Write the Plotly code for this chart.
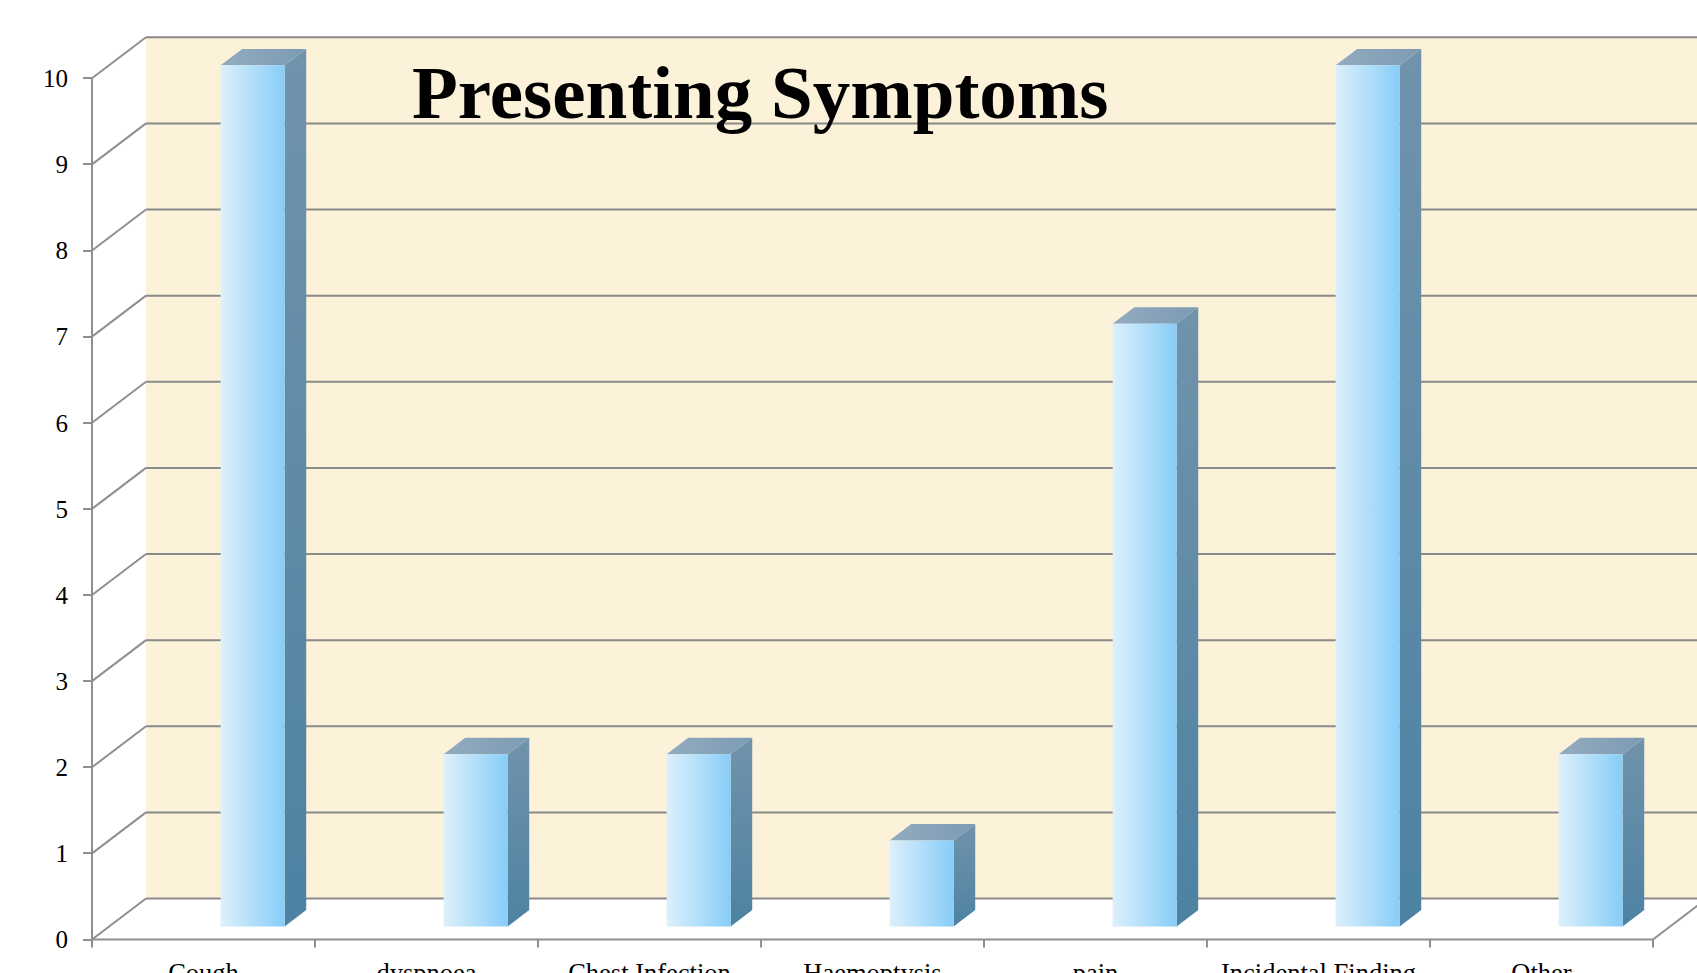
import plotly.graph_objects as go

# ---------------- data ----------------
categories = ["Cough", "dyspnoea", "Chest Infection", "Haemoptysis", "pain",
              "Incidental Finding", "Other"]
counts = [10, 2, 2, 1, 7, 10, 2]
value_ticks = [0, 1, 2, 3, 4, 5, 6, 7, 8, 9, 10]
title_text = "Presenting Symptoms"

# ---------------- layout geometry (pixels) ----------------
W, H = 1697, 973
X0, Y0 = 92.0, 939.5      # front origin of the pseudo-3D box
CW = 223.0                # px per category
VU = 86.12                # px per value unit
DXP, DYP = 54.0, 41.0     # full depth offset
ddx, ddy = DXP / CW, DYP / VU
vmax = max(value_ticks)
ncat = len(categories)

xr = [-X0 / CW, (W - X0) / CW]
yr = [(Y0 - H) / VU, Y0 / VU]

BAR_D1, BAR_D2 = 0.317, 0.717   # bar depth span
BAR_OFF, BAR_W = 0.5, 0.287     # bar placement inside category

GRID = "#8a8a8a"
AXC = "#8f8f8f"
WALL = "#fcf2da"
FONT = "Liberation Serif"


def P(x, v, d):
    return x + d * ddx, v + d * ddy


fig = go.Figure()


def poly(pts, **kw):
    xs = [p[0] for p in pts] + [pts[0][0]]
    ys = [p[1] for p in pts] + [pts[0][1]]
    fig.add_trace(go.Scatter(x=xs, y=ys, mode="lines", fill="toself",
                             line=dict(width=0), hoverinfo="skip",
                             showlegend=False, **kw))


def seg(pts, color=GRID, width=2):
    fig.add_trace(go.Scatter(x=[p[0] for p in pts], y=[p[1] for p in pts],
                             mode="lines", line=dict(color=color, width=width),
                             hoverinfo="skip", showlegend=False))


# back wall
xback = xr[1] + 0.3
bl = P(0, 0, 1)
tl = P(0, vmax, 1)
poly([bl, (xback, bl[1]), (xback, tl[1]), tl], fillcolor=WALL)

# back gridlines and side-wall lines
for v in value_ticks:
    b = P(0, v, 1)
    seg([b, (xback, b[1])], GRID, 2)
    seg([P(0, v, 0), b], AXC, 2)

# front vertical axis line
seg([P(0, 0, 0), P(0, vmax, 0)], AXC, 2)
# front floor line + boundary ticks
seg([P(0, 0, 0), P(ncat, 0, 0)], AXC, 2)
for k in range(ncat + 1):
    seg([P(k, 0, 0), P(k, -8 / VU, 0)], AXC, 2)
# right floor edge
seg([P(ncat, 0, 0), P(ncat, 0, 1)], AXC, 2)

# bars
for k, v in enumerate(counts):
    x0 = k + BAR_OFF
    x1 = x0 + BAR_W
    # side face
    poly([P(x1, 0, BAR_D1), P(x1, v, BAR_D1), P(x1, v, BAR_D2), P(x1, 0, BAR_D2)],
         fillgradient=dict(type="vertical",
                           colorscale=[[0, "#4d82a2"], [1, "#7193ac"]]))
    # top face
    poly([P(x0, v, BAR_D1), P(x1, v, BAR_D1), P(x1, v, BAR_D2), P(x0, v, BAR_D2)],
         fillgradient=dict(type="horizontal",
                           colorscale=[[0, "#93abbf"], [1, "#7c9bb3"]]))
    # front face
    poly([P(x0, 0, BAR_D1), P(x1, 0, BAR_D1), P(x1, v, BAR_D1), P(x0, v, BAR_D1)],
         fillgradient=dict(type="horizontal",
                           colorscale=[[0, "#ddf0fc"], [1, "#87cdf7"]]))

fig.add_annotation(text="<b>" + title_text + "</b>", xref="paper", yref="paper",
                   x=760 / W, y=1 - 92 / H, xanchor="center", yanchor="middle",
                   showarrow=False, font=dict(family=FONT, size=75, color="black"))

fig.update_layout(
    width=W, height=H,
    margin=dict(l=0, r=0, t=0, b=0),
    paper_bgcolor="white", plot_bgcolor="white",
    showlegend=False,
    xaxis=dict(range=xr, showgrid=False, zeroline=False, showline=False,
               anchor="free", position=(H - Y0) / H,
               tickvals=[k + 0.5 for k in range(ncat)], ticktext=categories,
               ticks="", ticklabelstandoff=15, automargin=False,
               tickfont=dict(family=FONT, size=26.5, color="black")),
    yaxis=dict(range=yr, showgrid=False, zeroline=False, showline=False,
               anchor="free", position=X0 / W,
               tickvals=value_ticks, ticks="outside", ticklen=9,
               tickwidth=2, tickcolor=AXC, ticklabelstandoff=10,
               automargin=False,
               tickfont=dict(family=FONT, size=25, color="black")),
)

fig.write_html("out.html")
